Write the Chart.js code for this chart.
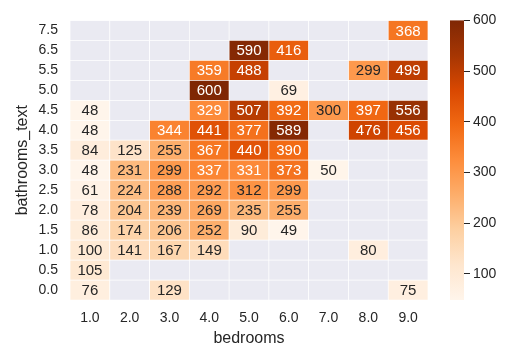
<!DOCTYPE html>
<html lang="en">
<head>
    <meta charset="UTF-8">
    <script src="https://cdn.jsdelivr.net/npm/chart.js"></script>
    <style>
        body { margin: 0; background: #fff; }
    </style>
</head>
<body>
    <div style="width: 517px; height: 353px;">
        <canvas id="heat"></canvas>
    </div>

    <script>
        // 축 라벨
        var bedrooms = ['1.0', '2.0', '3.0', '4.0', '5.0', '6.0', '7.0', '8.0', '9.0'];
        var bathrooms = ['0.0', '0.5', '1.0', '1.5', '2.0', '2.5', '3.0', '3.5', '4.0', '4.5', '5.0', '5.5', '6.5', '7.5'];

        // 욕실 수별 가격 (bedrooms 1.0 ~ 9.0), null = 데이터 없음
        var bath00 = [76, null, 129, null, null, null, null, null, 75];
        var bath05 = [105, null, null, null, null, null, null, null, null];
        var bath10 = [100, 141, 167, 149, null, null, null, 80, null];
        var bath15 = [86, 174, 206, 252, 90, 49, null, null, null];
        var bath20 = [78, 204, 239, 269, 235, 255, null, null, null];
        var bath25 = [61, 224, 288, 292, 312, 299, null, null, null];
        var bath30 = [48, 231, 299, 337, 331, 373, 50, null, null];
        var bath35 = [84, 125, 255, 367, 440, 390, null, null, null];
        var bath40 = [48, null, 344, 441, 377, 589, null, 476, 456];
        var bath45 = [48, null, null, 329, 507, 392, 300, 397, 556];
        var bath50 = [null, null, null, 600, null, 69, null, null, null];
        var bath55 = [null, null, null, 359, 488, null, null, 299, 499];
        var bath65 = [null, null, null, null, 590, 416, null, null, null];
        var bath75 = [null, null, null, null, null, null, null, null, 368];
        var priceRows = [bath00, bath05, bath10, bath15, bath20, bath25, bath30,
                         bath35, bath40, bath45, bath50, bath55, bath65, bath75];

        var cbTicks = [100, 200, 300, 400, 500, 600];
        var vMin = 48;
        var vMax = 600;

        // matplotlib Oranges
        var oranges = ['#fff5eb', '#fee6ce', '#fdd0a2', '#fdae6b', '#fd8d3c', '#f16913', '#d94801', '#a63603', '#7f2704'];
        var hexRgb = function(h){
            return [parseInt(h.substr(1,2),16), parseInt(h.substr(3,2),16), parseInt(h.substr(5,2),16)];
        }
        var cmapRgb = function(v){
            var t = Math.max(0, Math.min(1, (v - vMin) / (vMax - vMin))) * (oranges.length - 1);
            var i = Math.min(Math.floor(t), oranges.length - 2);
            var f = t - i;
            var a = hexRgb(oranges[i]), b = hexRgb(oranges[i+1]);
            return a.map((c, k) => Math.round(c + (b[k] - c) * f));
        }
        var rgbStr = c => `rgb(${c[0]},${c[1]},${c[2]})`;
        // seaborn 방식 글자색 결정
        var textColor = function(v){
            var c = cmapRgb(v).map(x => {
                x = x / 255;
                return x <= 0.03928 ? x / 12.92 : Math.pow((x + 0.055) / 1.055, 2.4);
            });
            var lum = 0.2126 * c[0] + 0.7152 * c[1] + 0.0722 * c[2];
            return lum > 0.408 ? '#262626' : '#ffffff';
        }

        var datasets = priceRows.map((row, i) => ({
            label: bathrooms[i],
            data: row.map(() => [i, i + 1]),
            values: row,
            backgroundColor: row.map(v => v == null ? '#eaeaf2' : rgbStr(cmapRgb(v))),
            borderColor: '#ffffff',
            borderWidth: 0.7,
            borderSkipped: false,
            grouped: false,
            barPercentage: 1,
            categoryPercentage: 1,
        }));

        // 셀 숫자 표시
        var annotPlugin = {
            id: 'annot',
            afterDatasetsDraw(chart){
                var ctx = chart.ctx;
                ctx.save();
                ctx.font = '15px "Liberation Sans", Arial, sans-serif';
                ctx.textAlign = 'center';
                ctx.textBaseline = 'middle';
                chart.data.datasets.forEach((ds, i) => {
                    chart.getDatasetMeta(i).data.forEach((bar, j) => {
                        var v = ds.values[j];
                        if(v == null) return;
                        ctx.fillStyle = textColor(v);
                        ctx.fillText(String(v), bar.x, (bar.y + bar.base) / 2 + 1);
                    });
                });
                ctx.restore();
            }
        };

        // 컬러바
        var colorbarPlugin = {
            id: 'colorbar',
            afterDraw(chart){
                var cb = chart.scales.cb;
                var ctx = chart.ctx;
                var g = ctx.createLinearGradient(0, cb.getPixelForValue(vMin), 0, cb.getPixelForValue(vMax));
                oranges.forEach((c, k) => g.addColorStop(k / (oranges.length - 1), c));
                ctx.save();
                ctx.fillStyle = g;
                ctx.fillRect(cb.left - 14, cb.top, 14, cb.bottom - cb.top);
                ctx.restore();
            }
        };

        var tickFont = { family: '"Liberation Sans", Arial, sans-serif', size: 14 };
        var titleFont = { family: '"Liberation Sans", Arial, sans-serif', size: 16 };

        new Chart(document.getElementById('heat'), {
            type: 'bar',
            data: { labels: bedrooms, datasets: datasets },
            plugins: [annotPlugin, colorbarPlugin],
            options: {
                responsive: true,
                maintainAspectRatio: false,
                animation: false,
                layout: { padding: { top: 10, right: 13, bottom: 0, left: 0 } },
                plugins: { legend: { display: false }, tooltip: { enabled: false } },
                scales: {
                    x: {
                        grid: { display: false, drawTicks: false },
                        border: { display: false },
                        ticks: { color: '#262626', font: tickFont, padding: 10 },
                        title: { display: true, text: 'bedrooms', color: '#262626', font: titleFont, padding: { top: 0, bottom: 5 } },
                        afterFit: s => { s.height = 53; }
                    },
                    y: {
                        min: 0,
                        max: bathrooms.length,
                        grid: { display: false, drawTicks: false },
                        border: { display: false },
                        afterBuildTicks: s => { s.ticks = bathrooms.map((b, i) => ({ value: i + 0.5 })); },
                        ticks: { color: '#262626', font: tickFont, padding: 12, callback: v => bathrooms[v - 0.5] },
                        title: { display: true, text: 'bathrooms_text', color: '#262626', font: titleFont, padding: { top: 13, bottom: 0 } },
                        afterFit: s => { s.width = 70; }
                    },
                    gap: {
                        type: 'linear',
                        position: 'right',
                        weight: 0,
                        grid: { display: false, drawTicks: false },
                        border: { display: false },
                        ticks: { display: false },
                        afterFit: s => { s.width = 36; }
                    },
                    cb: {
                        type: 'linear',
                        position: 'right',
                        weight: 1,
                        min: vMin,
                        max: vMax,
                        afterBuildTicks: s => { s.ticks = cbTicks.map(v => ({ value: v })); },
                        grid: { drawOnChartArea: false, drawTicks: true, tickLength: 6, color: '#262626', tickWidth: 1 },
                        border: { display: false },
                        ticks: { color: '#262626', font: tickFont, padding: 3 },
                        afterFit: s => { s.width = 40; }
                    }
                }
            }
        });
    </script>
</body>
</html>
